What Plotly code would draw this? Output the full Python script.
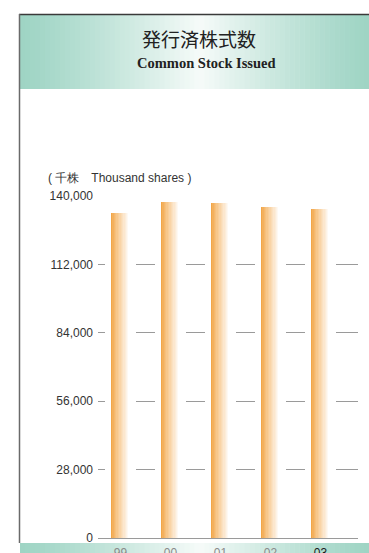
import plotly.graph_objects as go

# ---- data ----
years = ["99", "00", "01", "02", "03"]
shares = [133000, 137500, 137100, 135500, 134700]   # thousand shares
y_ticks = [0, 28000, 56000, 84000, 112000, 140000]
title_jp = "発行済株式数"
title_en = "Common Stock Issued"
unit_label = "( 千株　Thousand shares )"

W, H = 369, 553
L, R, T, B = 98, 11, 196, 15
PW, PH = W - L - R, H - T - B

def px_x(p):
    return (p - L) / PW

def px_y(p):
    return (H - B - p) / PH

xpos = list(range(len(years)))
fig = go.Figure()

# white halo behind bars (breaks the gridlines around each bar)
fig.add_trace(go.Bar(x=xpos, y=shares, width=0.62, marker=dict(color="white", line=dict(width=0)),
                     hoverinfo="skip", showlegend=False))

# gradient bars built from slices (orange on left fading to white on right)
bw = 0.39
N = 14
c0 = (242, 166, 72)
c1 = (255, 255, 255)
for i in range(N):
    t = i / (N - 1)
    t2 = t ** 0.85
    col = tuple(round(c0[k] + (c1[k] - c0[k]) * t2) for k in range(3))
    left = -bw / 2 + i * bw / N
    fig.add_trace(go.Bar(
        x=xpos, y=shares, offset=left, width=bw / 2 - left,
        marker=dict(color="rgb(%d,%d,%d)" % col, line=dict(width=0)),
        hoverinfo="skip", showlegend=False))

shapes = []
def band(x0, x1, y0, y1, n=70):
    out = []
    edge = (158, 212, 196)
    mid = (246, 251, 249)
    cx = 200
    for i in range(n):
        a = x0 + (x1 - x0) * i / n
        b = x0 + (x1 - x0) * (i + 1) / n
        m = (a + b) / 2
        if m < cx:
            t = (m - x0) / (cx - x0)
        else:
            t = (x1 - m) / (x1 - cx)
        t = max(0, min(1, t)) ** 1.2
        col = tuple(round(edge[k] + (mid[k] - edge[k]) * t) for k in range(3))
        out.append(dict(type="rect", xref="paper", yref="paper", layer="below",
                        x0=px_x(a), x1=px_x(b) + 0.002, y0=px_y(y1), y1=px_y(y0),
                        line=dict(width=0), fillcolor="rgb(%d,%d,%d)" % col))
    return out

shapes += band(20, 369, 15, 89)
shapes += band(20, 369, 543, 553)
shapes.append(dict(type="line", xref="paper", yref="paper", x0=px_x(19), x1=px_x(369),
                   y0=px_y(14.5), y1=px_y(14.5), line=dict(color="#3a3a3a", width=1.6)))
shapes.append(dict(type="line", xref="paper", yref="paper", x0=px_x(19.5), x1=px_x(19.5),
                   y0=px_y(14), y1=px_y(543), line=dict(color="#6a6a6a", width=1.5)))

annotations = [
    dict(text=title_jp, xref="paper", yref="paper", x=px_x(199), y=px_y(38),
         xanchor="center", yanchor="middle", showarrow=False,
         font=dict(family="Noto Sans CJK JP", size=19, color="#222")),
    dict(text="<b>" + title_en + "</b>", xref="paper", yref="paper", x=px_x(206), y=px_y(63),
         xanchor="center", yanchor="middle", showarrow=False,
         font=dict(family="Liberation Serif", size=14.5, color="#222")),
    dict(text=unit_label, xref="paper", yref="paper", x=px_x(46), y=px_y(178),
         xanchor="left", yanchor="middle", showarrow=False,
         font=dict(family="Liberation Sans Narrow, Liberation Sans", size=12, color="#333")),
]

ticktext = [y if i < len(years) - 1 else '<span style="color:#1a1a1a">%s</span>' % y
            for i, y in enumerate(years)]

fig.update_layout(
    width=W, height=H,
    margin=dict(l=L, r=R, t=T, b=B, autoexpand=False),
    paper_bgcolor="white", plot_bgcolor="rgba(0,0,0,0)",
    barmode="overlay", bargap=0,
    shapes=shapes, annotations=annotations,
    font=dict(family="Liberation Sans Narrow, Liberation Sans", color="#333"),
    xaxis=dict(range=[-0.45, 4.75], tickvals=xpos, ticktext=ticktext, showgrid=False,
               zeroline=False, showline=True, linecolor="#9a9a9a", linewidth=1,
               ticks="", tickfont=dict(size=12, color="#8a8a8a"), fixedrange=True,
               automargin=False, ticklabelstandoff=4),
    yaxis=dict(range=[0, 140000], tickvals=y_ticks, tickformat=",", showgrid=True,
               gridcolor="#9a9a9a", gridwidth=1, zeroline=False, ticks="",
               tickfont=dict(size=12, color="#333"), fixedrange=True,
               automargin=False, ticklabelstandoff=4),
)

fig.write_html("out.html", config={"displayModeBar": False},
               post_script="document.body.style.margin='0';document.body.style.overflow='hidden';")
